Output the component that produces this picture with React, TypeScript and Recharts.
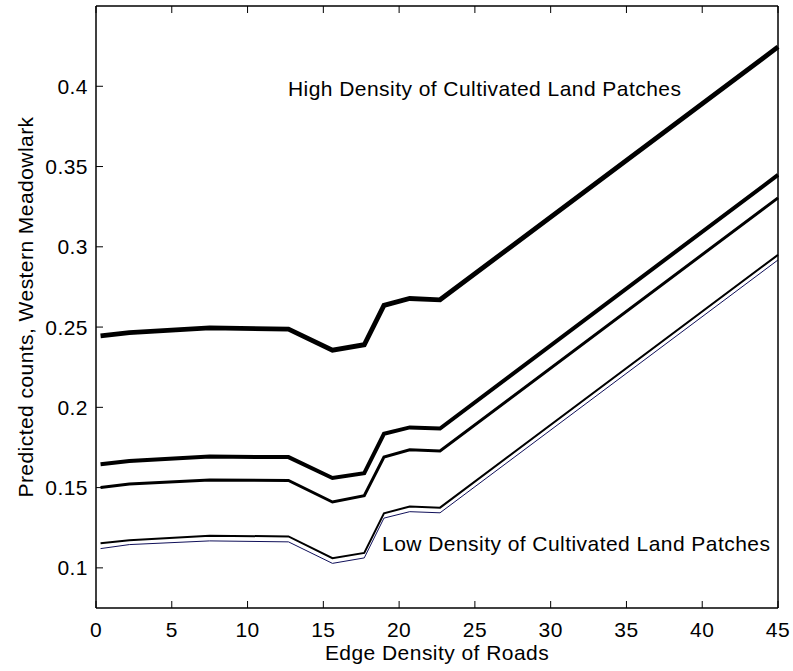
import { LineChart, Line, XAxis, YAxis, ReferenceDot } from "recharts"

const roadDensity = [0.3, 2.2, 7.5, 12.7, 15.6, 17.7, 19.0, 20.7, 22.7, 45]
const seriesA = [0.2445, 0.2465, 0.2495, 0.2487, 0.2356, 0.2390, 0.2635, 0.2678, 0.2670, 0.4245]
const seriesB = [0.1645, 0.1665, 0.1693, 0.1690, 0.1560, 0.1590, 0.1835, 0.1875, 0.1868, 0.3448]
const seriesC = [0.1500, 0.1522, 0.1548, 0.1545, 0.1410, 0.1450, 0.1690, 0.1735, 0.1728, 0.3305]
const seriesD = [0.1153, 0.1172, 0.1200, 0.1196, 0.1060, 0.1093, 0.1340, 0.1382, 0.1375, 0.2950]
const seriesE = [0.1120, 0.1145, 0.1168, 0.1162, 0.1028, 0.1062, 0.1310, 0.1350, 0.1343, 0.2918]

const xTicks = [0, 5, 10, 15, 20, 25, 30, 35, 40, 45]
const yTicks = [0.1, 0.15, 0.2, 0.25, 0.3, 0.35, 0.4]

const data = roadDensity.map((x, i) => ({ x, a: seriesA[i], b: seriesB[i], c: seriesC[i], d: seriesD[i], e: seriesE[i] }))

const font = "'Liberation Sans', Arial, Helvetica, sans-serif"
const fs = 21
const ls = 0.45
const TL = 7

const BottomTick = ({ x, y, payload }: any) => (
  <g>
    <line x1={x} x2={x} y1={y} y2={y - TL} stroke="#000" strokeWidth={1} />
    <text x={x} y={y + 29} textAnchor="middle" fontSize={fs} letterSpacing={ls} fontFamily={font} fill="#000">{payload.value}</text>
  </g>
)
const TopTick = ({ x, y }: any) => <line x1={x} x2={x} y1={y} y2={y + TL} stroke="#000" strokeWidth={1} />
const LeftTick = ({ x, y, payload }: any) => (
  <g>
    <line x1={x} x2={x + TL} y1={y} y2={y} stroke="#000" strokeWidth={1} />
    <text x={x - 8} y={y} dy="0.36em" textAnchor="end" fontSize={fs} letterSpacing={ls} fontFamily={font} fill="#000">{payload.value}</text>
  </g>
)
const RightTick = ({ x, y }: any) => <line x1={x} x2={x - TL} y1={y} y2={y} stroke="#000" strokeWidth={1} />

const note = (txt: string) => (p: any) => {
  const vb = p.viewBox || {}
  return <text x={vb.x} y={vb.y} fontSize={fs} letterSpacing={ls} fontFamily={font} fill="#000">{txt}</text>
}

export default function App() {
  return (
    <div style={{ position: "absolute", left: 0, top: 0, background: "#fff" }}>
      <LineChart width={793} height={671} data={data} margin={{ top: 0, right: 0, bottom: 0, left: 0 }}>
        <XAxis xAxisId="bottom" dataKey="x" type="number" domain={[0, 45]} ticks={xTicks} height={63}
          tickSize={0} tickMargin={0} axisLine={{ stroke: "#000", strokeWidth: 1.5 }} tickLine={false} tick={<BottomTick />}
          label={{ content: (p: any) => { const vb = p.viewBox; return <text x={vb.x + vb.width / 2} y={vb.y + 52} textAnchor="middle" fontSize={fs} letterSpacing={ls} fontFamily={font} fill="#000">Edge Density of Roads</text> } }} />
        <XAxis xAxisId="top" orientation="top" dataKey="x" type="number" domain={[0, 45]} ticks={xTicks} height={6}
          tickSize={0} tickMargin={0} axisLine={{ stroke: "#000", strokeWidth: 1.5 }} tickLine={false} tick={<TopTick />} />
        <YAxis yAxisId="left" type="number" domain={[0.075, 0.45]} ticks={yTicks} width={96}
          tickSize={0} tickMargin={0} axisLine={{ stroke: "#000", strokeWidth: 1.5 }} tickLine={false} tick={<LeftTick />}
          label={{ content: (p: any) => { const vb = p.viewBox; const cy = vb.y + vb.height / 2; return <text x={33} y={cy} transform={`rotate(-90, 33, ${cy})`} textAnchor="middle" fontSize={fs} letterSpacing={ls} fontFamily={font} fill="#000">Predicted counts, Western Meadowlark</text> } }} />
        <YAxis yAxisId="right" orientation="right" type="number" domain={[0.075, 0.45]} ticks={yTicks} width={15}
          tickSize={0} tickMargin={0} axisLine={{ stroke: "#000", strokeWidth: 1.5 }} tickLine={false} tick={<RightTick />} />

        <Line xAxisId="bottom" yAxisId="left" type="linear" dataKey="a" stroke="#000" strokeWidth={4.8} dot={false} isAnimationActive={false} />
        <Line xAxisId="bottom" yAxisId="left" type="linear" dataKey="b" stroke="#000" strokeWidth={4} dot={false} isAnimationActive={false} />
        <Line xAxisId="bottom" yAxisId="left" type="linear" dataKey="c" stroke="#000" strokeWidth={3} dot={false} isAnimationActive={false} />
        <Line xAxisId="bottom" yAxisId="left" type="linear" dataKey="d" stroke="#000" strokeWidth={2} dot={false} isAnimationActive={false} />
        <Line xAxisId="bottom" yAxisId="left" type="linear" dataKey="e" stroke="#10105a" strokeWidth={1} dot={false} isAnimationActive={false} />

        <ReferenceDot xAxisId="bottom" yAxisId="left" x={12.73} y={0.3934} r={1} fill="none" stroke="none"
          label={{ content: note("High Density of Cultivated Land Patches") }} />
        <ReferenceDot xAxisId="bottom" yAxisId="left" x={18.94} y={0.11} r={1} fill="none" stroke="none"
          label={{ content: note("Low Density of Cultivated Land Patches") }} />
      </LineChart>
    </div>
  )
}
